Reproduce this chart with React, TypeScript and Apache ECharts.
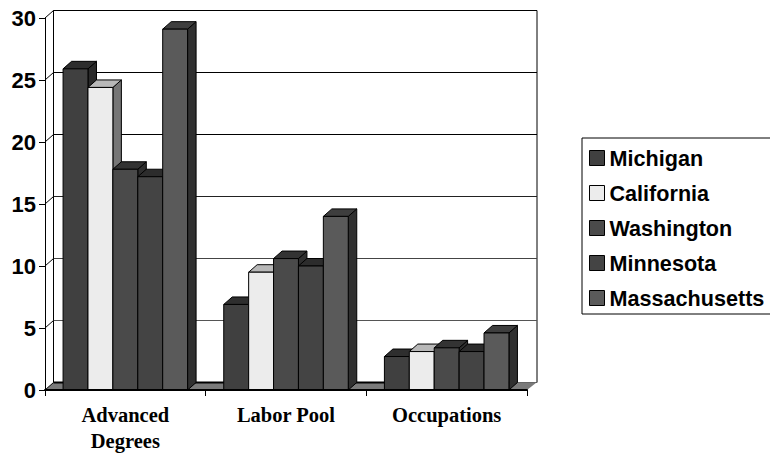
import React, { useEffect, useRef } from "react";
import * as echarts from "echarts";

const categories = ["Advanced\nDegrees", "Labor Pool", "Occupations"];
const seriesNames = ["Michigan", "California", "Washington", "Minnesota", "Massachusetts"];
const michigan = [25.9, 6.9, 2.7];
const california = [24.4, 9.5, 3.1];
const washington = [17.8, 10.6, 3.4];
const minnesota = [17.2, 10.0, 3.1];
const massachusetts = [29.1, 14.0, 4.6];
const seriesValues = [michigan, california, washington, minnesota, massachusetts];
const yTicks = [0, 5, 10, 15, 20, 25, 30];

const frontColors = ["#404040", "#ececec", "#4a4a4a", "#444444", "#5a5a5a"];
const topColors = ["#2e2e2e", "#b8b8b8", "#333333", "#2c2c2c", "#3e3e3e"];
const sideColors = ["#2a2a2a", "#767676", "#2e2e2e", "#2a2a2a", "#303030"];
const gridLineColors = ["#555555", "#555555", "#444444", "#222222", "#000000", "#000000", "#000000"];

// Oblique offset of the back wall relative to the front plane.
const DEPTH_X = 8.5;
const DEPTH_Y = -7.5;
const BAR_SHARE = 0.155;
const SANS = "'Liberation Sans', Arial, sans-serif";
const SERIF = "'Liberation Serif', 'Times New Roman', serif";

const makeBarRenderer = (seriesIndex: number) => (_params: any, api: any) => {
  const [cx, yTop] = api.coord([api.value(0), api.value(1)]);
  const [, yBase] = api.coord([api.value(0), 0]);
  const barWidth = api.size([1, 0])[0] * BAR_SHARE;
  const x = cx + (seriesIndex - seriesNames.length / 2) * barWidth;
  const edge = { stroke: "#000", lineWidth: 1 };
  return {
    type: "group",
    children: [
      {
        type: "polygon",
        shape: {
          points: [
            [x + barWidth, yTop],
            [x + barWidth + DEPTH_X, yTop + DEPTH_Y],
            [x + barWidth + DEPTH_X, yBase + DEPTH_Y],
            [x + barWidth, yBase],
          ],
        },
        style: { fill: sideColors[seriesIndex], ...edge },
      },
      {
        type: "polygon",
        shape: {
          points: [
            [x, yTop],
            [x + DEPTH_X, yTop + DEPTH_Y],
            [x + barWidth + DEPTH_X, yTop + DEPTH_Y],
            [x + barWidth, yTop],
          ],
        },
        style: { fill: topColors[seriesIndex], ...edge },
      },
      {
        type: "rect",
        shape: { x, y: yTop, width: barWidth, height: yBase - yTop },
        style: { fill: frontColors[seriesIndex], ...edge },
      },
    ],
  };
};

// Floor plane and the slanted links between the front axis and the back wall.
const renderFrame = (params: any, api: any) => {
  const box = params.coordSys;
  const left = box.x;
  const right = box.x + box.width;
  const [, yBase] = api.coord([0, 0]);
  const [lastCenter] = api.coord([categories.length - 1, 0]);
  const lastBarEnd = lastCenter + api.size([1, 0])[0] * BAR_SHARE * (seriesNames.length / 2);
  const slants = yTicks.map((tick) => {
    const [, y] = api.coord([0, tick]);
    return {
      type: "line",
      shape: { x1: left, y1: y, x2: left + DEPTH_X, y2: y + DEPTH_Y },
      style: { stroke: "#000", lineWidth: 1 },
    };
  });
  return {
    type: "group",
    children: [
      {
        type: "polygon",
        shape: {
          points: [
            [left, yBase],
            [left + DEPTH_X, yBase + DEPTH_Y],
            [right + DEPTH_X + 1, yBase + DEPTH_Y],
            [right, yBase],
          ],
        },
        style: { fill: "#7a7a7a" },
      },
      {
        type: "line",
        shape: { x1: left + DEPTH_X, y1: yBase + DEPTH_Y, x2: lastBarEnd, y2: yBase + DEPTH_Y },
        style: { stroke: "#000", lineWidth: 2 },
      },
      ...slants,
    ],
  };
};

export default function App() {
  const ref = useRef<HTMLDivElement>(null);

  useEffect(() => {
    const chart = echarts.init(ref.current!, null, { renderer: "svg" });
    chart.setOption({
      animation: false,
      backgroundColor: "#fff",
      grid: [
        { left: 45, right: 243, top: 18, bottom: 64, outerBoundsMode: "none" },
        {
          left: 53.5,
          right: 233,
          top: 10.5,
          bottom: 71.5,
          outerBoundsMode: "none",
          show: true,
          borderColor: "#000",
          borderWidth: 1,
          backgroundColor: "transparent",
        },
      ],
      xAxis: [
        {
          type: "category",
          gridIndex: 0,
          data: categories,
          z: 10,
          axisLine: { show: true, lineStyle: { color: "#000", width: 2 } },
          axisTick: { show: true, length: 6, lineStyle: { color: "#000", width: 1 } },
          axisLabel: {
            interval: 0,
            color: "#000",
            fontFamily: SERIF,
            fontWeight: "bold",
            fontSize: 20.5,
            lineHeight: 26,
            margin: 12,
          },
        },
        { type: "category", gridIndex: 1, data: categories, show: false },
      ],
      yAxis: [
        {
          type: "value",
          gridIndex: 0,
          min: 0,
          max: 30,
          interval: 5,
          z: 10,
          splitLine: { show: false },
          axisLine: { show: true, lineStyle: { color: "#000", width: 1 } },
          axisTick: { show: true, length: 6, lineStyle: { color: "#000", width: 1 } },
          axisLabel: { color: "#000", fontFamily: SANS, fontWeight: "bold", fontSize: 22, margin: 9 },
        },
        {
          type: "value",
          gridIndex: 1,
          min: 0,
          max: 30,
          interval: 5,
          axisLine: { show: false },
          axisTick: { show: false },
          axisLabel: { show: false },
          splitLine: { show: true, lineStyle: { color: gridLineColors, width: 1 } },
        },
      ],
      legend: {
        data: seriesNames,
        orient: "vertical",
        left: 582,
        top: 138,
        padding: [8, 16, 4, 7],
        itemWidth: 15,
        itemHeight: 15,
        itemGap: 11,
        borderColor: "#000",
        borderWidth: 1,
        backgroundColor: "#fff",
        icon: "rect",
        inactiveColor: "#000",
        itemStyle: { borderColor: "#000", borderWidth: 1 },
        textStyle: { color: "#000", fontFamily: SANS, fontWeight: "bold", fontSize: 21.6, lineHeight: 24 },
      },
      series: [
        {
          type: "custom",
          name: "frame",
          xAxisIndex: 0,
          yAxisIndex: 0,
          silent: true,
          z: 1,
          renderItem: renderFrame,
          data: [[0, 0]],
          encode: { x: 0, y: 1 },
        },
        ...seriesNames.map((name, i) => ({
          type: "custom",
          name,
          xAxisIndex: 0,
          yAxisIndex: 0,
          z: 2 + i,
          itemStyle: { color: frontColors[i] },
          renderItem: makeBarRenderer(i),
          data: seriesValues[i].map((value, c) => [c, value]),
          encode: { x: 0, y: 1 },
        })),
      ],
    });
    return () => chart.dispose();
  }, []);

  return <div ref={ref} style={{ position: "fixed", left: 0, top: 0, width: 770, height: 454 }} />;
}
